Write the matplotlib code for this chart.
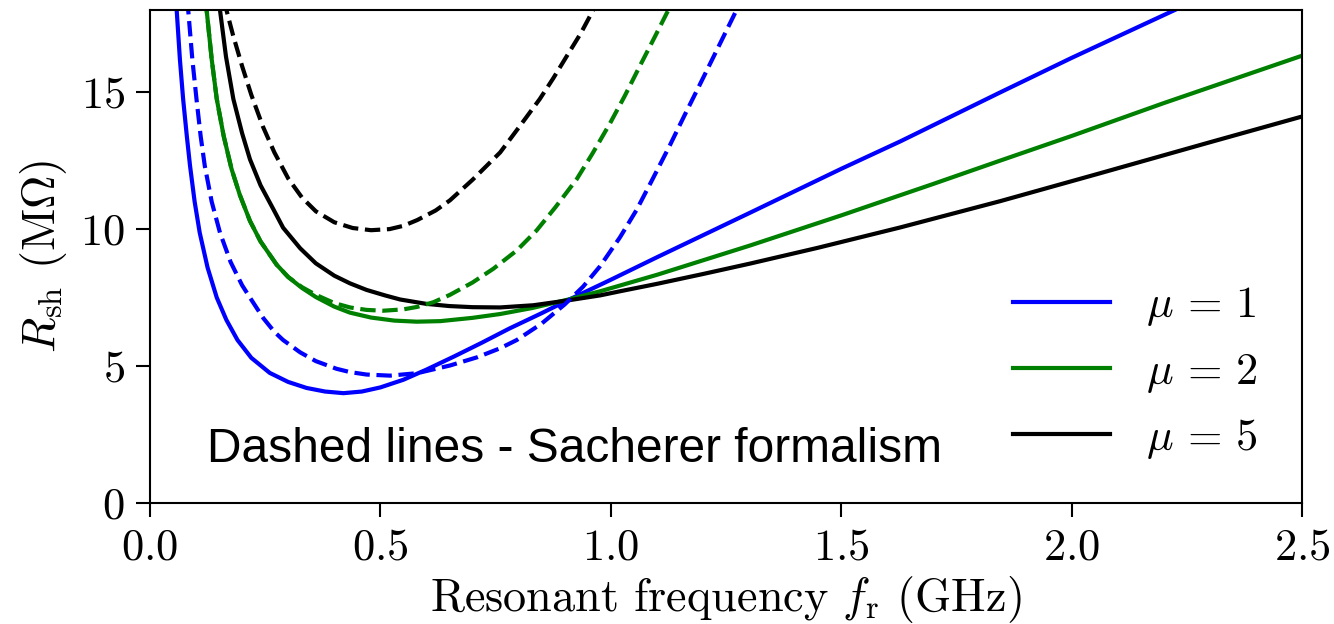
import matplotlib
matplotlib.use("Agg")
import matplotlib.pyplot as plt

plt.rcParams['mathtext.fontset'] = 'cm'
plt.rcParams['font.family'] = 'serif'
plt.rcParams['font.serif'] = ['cmr10']
plt.rcParams['axes.formatter.use_mathtext'] = True

# shunt impedance thresholds (MOhm) vs resonant frequency (GHz)
f_mu1 = [0.054, 0.058, 0.065, 0.072, 0.080, 0.087, 0.097, 0.108, 0.125, 0.145, 0.166, 0.19,
         0.22, 0.26, 0.30, 0.34, 0.38, 0.42, 0.46, 0.50, 0.55, 0.60, 0.66, 0.72, 0.78, 0.85,
         0.91, 1.0, 1.1, 1.3, 1.5, 1.628, 1.845, 2.0, 2.224, 2.3]
r_mu1 = [19.5, 18.0, 16.2, 14.75, 13.4, 12.31, 11.0, 9.87, 8.6, 7.5, 6.68, 5.95,
         5.3, 4.75, 4.42, 4.2, 4.07, 4.01, 4.07, 4.22, 4.5, 4.87, 5.35, 5.85, 6.37, 6.93,
         7.43, 8.15, 8.97, 10.58, 12.2, 13.2, 14.99, 16.25, 18.0, 18.6]

f_mu1_sach = [0.079, 0.083, 0.092, 0.101, 0.110, 0.119, 0.134, 0.152, 0.175, 0.20, 0.217, 0.246,
              0.27, 0.289, 0.326, 0.36, 0.405, 0.434, 0.47, 0.521, 0.58, 0.651, 0.71, 0.76,
              0.796, 0.85, 0.90, 0.94, 0.977, 1.02, 1.056, 1.09, 1.128, 1.16, 1.194, 1.235,
              1.273, 1.30]
r_mu1_sach = [19.5, 18.0, 16.2, 14.75, 13.4, 12.31, 11.0, 9.87, 8.8, 7.95, 7.5, 6.75,
              6.25, 5.95, 5.5, 5.18, 4.9, 4.78, 4.69, 4.65, 4.74, 5.02, 5.32, 5.65,
              5.95, 6.55, 7.25, 7.9, 8.65, 9.7, 10.7, 11.8, 13.05, 14.15, 15.3, 16.7,
              18.0, 19.0]

f_mu2 = [0.118, 0.123, 0.134, 0.145, 0.160, 0.177, 0.195, 0.217, 0.24, 0.275, 0.30, 0.33,
         0.36, 0.40, 0.434, 0.48, 0.53, 0.579, 0.63, 0.70, 0.76, 0.83, 0.908, 0.977,
         1.1, 1.302, 1.5, 1.7, 1.845, 2.0, 2.2, 2.5]
r_mu2 = [19.5, 18.0, 16.2, 14.75, 13.4, 12.2, 11.25, 10.3, 9.55, 8.7, 8.25, 7.85,
         7.52, 7.17, 6.95, 6.77, 6.66, 6.62, 6.64, 6.76, 6.9, 7.12, 7.43, 7.73,
         8.33, 9.4, 10.5, 11.65, 12.5, 13.4, 14.6, 16.33]

f_mu2_sach = [0.118, 0.123, 0.134, 0.145, 0.160, 0.177, 0.195, 0.217, 0.24, 0.275, 0.30, 0.33,
              0.36, 0.40, 0.434, 0.47, 0.506, 0.55, 0.58, 0.615, 0.651, 0.70, 0.745, 0.796,
              0.839, 0.88, 0.926, 0.96, 0.998, 1.03, 1.063, 1.095, 1.125, 1.15]
r_mu2_sach = [19.5, 18.0, 16.2, 14.75, 13.4, 12.2, 11.25, 10.3, 9.55, 8.7, 8.25, 7.88,
              7.6, 7.3, 7.14, 7.05, 7.02, 7.07, 7.16, 7.33, 7.6, 8.05, 8.55, 9.22,
              9.95, 10.8, 11.82, 12.75, 13.85, 14.85, 15.95, 17.0, 18.0, 18.9]

f_mu5 = [0.147, 0.152, 0.165, 0.181, 0.20, 0.217, 0.24, 0.268, 0.289, 0.326, 0.36, 0.40,
         0.434, 0.47, 0.51, 0.543, 0.60, 0.65, 0.70, 0.76, 0.832, 0.908, 0.977, 1.02,
         1.1, 1.2, 1.302, 1.45, 1.628, 1.845, 2.062, 2.3, 2.5]
r_mu5 = [19.5, 18.0, 16.3, 14.75, 13.5, 12.55, 11.6, 10.72, 10.05, 9.3, 8.75, 8.3,
         8.02, 7.78, 7.58, 7.43, 7.27, 7.19, 7.15, 7.14, 7.22, 7.4, 7.58, 7.73,
         8.0, 8.36, 8.74, 9.32, 10.06, 11.02, 12.04, 13.17, 14.11]

f_mu5_sach = [0.162, 0.166, 0.18, 0.20, 0.22, 0.245, 0.27, 0.30, 0.33, 0.36, 0.40, 0.44,
              0.48, 0.52, 0.55, 0.58, 0.62, 0.651, 0.70, 0.76, 0.80, 0.846, 0.875, 0.904,
              0.935, 0.962, 0.98]
r_mu5_sach = [19.5, 18.0, 17.1, 15.95, 14.9, 13.75, 12.8, 11.85, 11.15, 10.65, 10.25, 10.04,
              9.96, 10.0, 10.12, 10.33, 10.68, 11.05, 11.8, 12.8, 13.7, 14.75, 15.5, 16.3,
              17.15, 18.0, 18.6]

fig = plt.figure(figsize=(13.34, 6.24), dpi=100)
ax = fig.add_axes([0.1124, 0.1939, 0.8636, 0.7901])

lw = 3
ax.plot(f_mu1, r_mu1, color='blue', lw=lw, label=r'$\mu\,=\,1$')
ax.plot(f_mu2, r_mu2, color='green', lw=lw, label=r'$\mu\,=\,2$')
ax.plot(f_mu5, r_mu5, color='black', lw=lw, label=r'$\mu\,=\,5$')
ax.plot(f_mu1_sach, r_mu1_sach, color='blue', lw=lw, ls='--')
ax.plot(f_mu2_sach, r_mu2_sach, color='green', lw=lw, ls='--')
ax.plot(f_mu5_sach, r_mu5_sach, color='black', lw=lw, ls='--')

ax.set_xlim(0, 2.5)
ax.set_ylim(0, 18)
ax.set_xticks([0.0, 0.5, 1.0, 1.5, 2.0, 2.5])
ax.set_yticks([0, 5, 10, 15])
ax.tick_params(labelsize=32, length=10, width=1.5, pad=8)
for s in ax.spines.values():
    s.set_linewidth(1.5)

ax.set_xlabel(r'Resonant frequency $f_{\mathrm{r}}$ (GHz)', fontsize=33.3, labelpad=4)
ax.set_ylabel(r'$R_{\mathrm{sh}}$ (M$\Omega$)', fontsize=33.3, labelpad=8)

ax.legend(loc='lower right', bbox_to_anchor=(0.9887, 0.0223), fontsize=32,
          frameon=False, handlelength=2.2, borderaxespad=0.3)

ax.text(0.0495, 0.083, 'Dashed lines - Sacherer formalism', transform=ax.transAxes,
        fontsize=34.5, family='Liberation Sans', va='baseline')

fig.savefig('out.png', dpi=100)
